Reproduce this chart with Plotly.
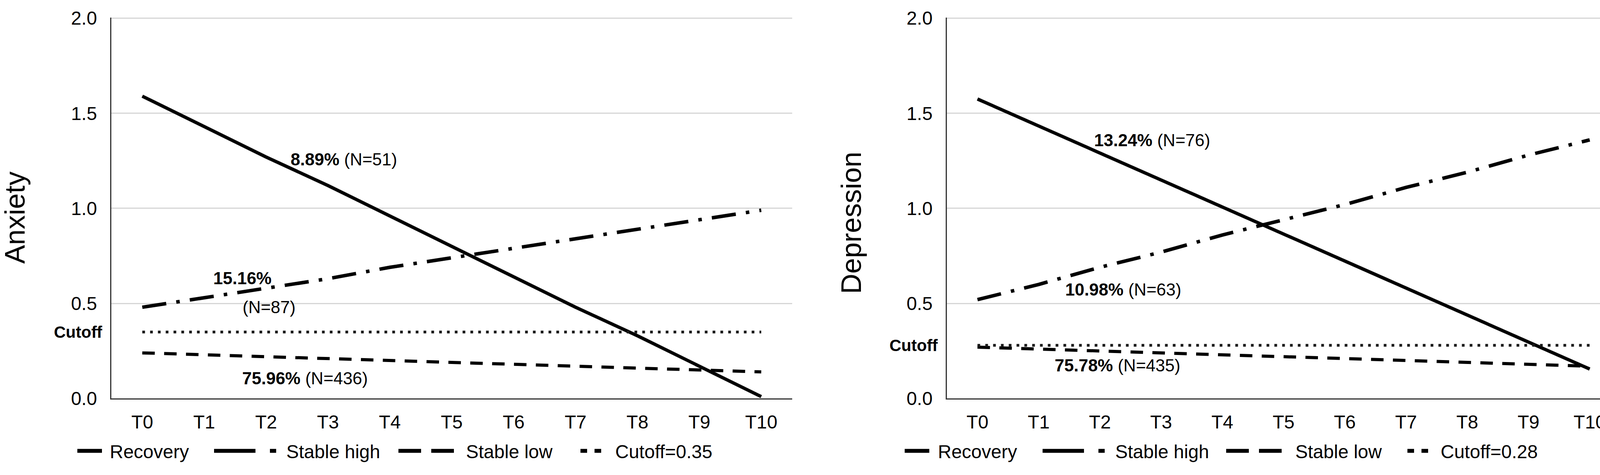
import plotly.graph_objects as go

# ---------------- data ----------------
time_points = ["T0", "T1", "T2", "T3", "T4", "T5", "T6", "T7", "T8", "T9", "T10"]

anx_recovery = [1.59, 1.43, 1.27, 1.12, 0.96, 0.80, 0.64, 0.48, 0.33, 0.17, 0.01]
anx_stable_high = [0.48, 0.53, 0.58, 0.63, 0.69, 0.74, 0.79, 0.84, 0.89, 0.94, 0.99]
anx_stable_low = [0.24, 0.23, 0.22, 0.21, 0.20, 0.19, 0.18, 0.17, 0.16, 0.15, 0.14]
anx_cutoff = 0.35

dep_recovery = [1.575, 1.433, 1.291, 1.149, 1.007, 0.865, 0.723, 0.581, 0.439, 0.297, 0.155]
dep_stable_high = [0.52, 0.60, 0.69, 0.77, 0.86, 0.94, 1.02, 1.11, 1.19, 1.28, 1.36]
dep_stable_low = [0.27, 0.26, 0.25, 0.24, 0.23, 0.22, 0.21, 0.20, 0.19, 0.18, 0.17]
dep_cutoff = 0.28

y_ticks = [0.0, 0.5, 1.0, 1.5, 2.0]
y_tick_text = ["0.0", "0.5", "1.0", "1.5", "2.0"]
legend_names_left = ["Recovery", "Stable high", "Stable low", "Cutoff=0.35"]
legend_names_right = ["Recovery", "Stable high", "Stable low", "Cutoff=0.28"]

# ---------------- layout helpers ----------------
W, H = 4150, 1215
FONT = "Liberation Sans, Arial, Helvetica, sans-serif"


def fx(p):
    return p / W


def fy(p):
    return 1 - p / H


fig = go.Figure()

styles = {
    "Recovery": dict(color="black", width=8.5),
    "Stable high": dict(color="black", width=9, dash="62px,26px,9px,26px"),
    "Stable low": dict(color="black", width=8, dash="32px,24px"),
    "Cutoff": dict(color="#1a1a1a", width=7, dash="7px,13px"),
}

panels = [
    ("x", "y", anx_recovery, anx_stable_high, anx_stable_low, anx_cutoff),
    ("x2", "y2", dep_recovery, dep_stable_high, dep_stable_low, dep_cutoff),
]

for xa, ya, rec, sh, sl, cut in panels:
    fig.add_trace(go.Scatter(x=time_points, y=rec, mode="lines", line=styles["Recovery"],
                             xaxis=xa, yaxis=ya, showlegend=False, name="Recovery"))
    fig.add_trace(go.Scatter(x=time_points, y=sh, mode="lines", line=styles["Stable high"],
                             xaxis=xa, yaxis=ya, showlegend=False, name="Stable high"))
    fig.add_trace(go.Scatter(x=time_points, y=sl, mode="lines", line=styles["Stable low"],
                             xaxis=xa, yaxis=ya, showlegend=False, name="Stable low"))
    fig.add_trace(go.Scatter(x=time_points, y=[cut] * len(time_points), mode="lines",
                             line=styles["Cutoff"], xaxis=xa, yaxis=ya, showlegend=False,
                             name="Cutoff"))

# ---------------- legends (Excel-like symbol samples) ----------------
# (symbol start px, text start px, dash pattern of the sample)
legend_left_geom = [
    (198, 281, "63px,400px"),
    (548, 733, "106px,37px,16px,400px"),
    (1020, 1193, "58px,26px,58px,400px"),
    (1486, 1575, "17px,19px,17px,400px"),
]
legend_right_geom = [
    (2316, 2401, "63px,400px"),
    (2669, 2855, "106px,37px,16px,400px"),
    (3139, 3316, "58px,26px,58px,400px"),
    (3603, 3688, "17px,19px,17px,400px"),
]

legend_layouts = {}
idx = 1
for names, geoms in [(legend_names_left, legend_left_geom), (legend_names_right, legend_right_geom)]:
    for name, (s, t, dash) in zip(names, geoms):
        lname = "legend" if idx == 1 else f"legend{idx}"
        iw = t - s - 5
        fig.add_trace(go.Scatter(x=[None], y=[None], mode="lines", name=name,
                                 line=dict(color="black", width=10, dash=dash),
                                 legend=lname, showlegend=True, hoverinfo="skip"))
        legend_layouts[lname] = dict(
            orientation="h", x=fx(s - 5), xanchor="left", y=fy(1179), yanchor="middle",
            itemwidth=max(30, iw), bgcolor="rgba(0,0,0,0)", borderwidth=0,
            font=dict(family=FONT, size=48, color="black"), itemclick=False,
            itemdoubleclick=False,
        )
        idx += 1

# ---------------- axes ----------------
Y_TOP = 2.004  # a hair above 2.0 so the 2.0 tick/gridline is kept
y_px_per_unit = (1039 - 23.5) / 2.0
y_dom = [fy(1039), fy(1039 - Y_TOP * y_px_per_unit)]
axis_common_x = dict(
    type="category", categoryorder="array", categoryarray=time_points,
    range=[-0.5, 10.5], showgrid=False, zeroline=False, showline=True,
    linecolor="#333333", linewidth=3, ticks="", ticklabelstandoff=16,
    ticklabeloverflow="allow",
    tickfont=dict(family=FONT, size=48, color="black"), fixedrange=True,
)
axis_common_y = dict(
    range=[0, Y_TOP], tickmode="array", tickvals=y_ticks, ticktext=y_tick_text,
    showgrid=True, gridcolor="#d6d6d6", gridwidth=3, zeroline=False, showline=True,
    linecolor="#333333", linewidth=3, ticks="", ticklabelstandoff=24,
    ticklabeloverflow="allow",
    tickfont=dict(family=FONT, size=48, color="black"), fixedrange=True,
)

fig.update_layout(
    width=W, height=H,
    margin=dict(l=0, r=0, t=0, b=0),
    paper_bgcolor="white", plot_bgcolor="white",
    font=dict(family=FONT, size=44, color="black"),
    xaxis=dict(domain=[fx(285), fx(2028)], anchor="y", **axis_common_x),
    yaxis=dict(domain=y_dom, anchor="x", **axis_common_y),
    xaxis2=dict(domain=[fx(2424), fx(4148)], anchor="y2", **axis_common_x),
    yaxis2=dict(domain=y_dom, anchor="x2", **axis_common_y),
    **legend_layouts,
)

# ---------------- annotations ----------------
ann = []
# y-axis titles
ann.append(dict(text="Anxiety", xref="paper", yref="paper", x=fx(38), y=fy(556),
                xanchor="center", yanchor="middle", textangle=-90, showarrow=False,
                font=dict(family=FONT, size=72, color="black")))
ann.append(dict(text="Depression", xref="paper", yref="paper", x=fx(2179), y=fy(570),
                xanchor="center", yanchor="middle", textangle=-90, showarrow=False,
                font=dict(family=FONT, size=72, color="black")))

# cutoff labels
for xr, yr, cut in [("x domain", "y", anx_cutoff), ("x2 domain", "y2", dep_cutoff)]:
    ann.append(dict(text="<b>Cutoff</b>", xref=xr, yref=yr, x=0, y=cut, xanchor="right",
                    yanchor="middle", xshift=-20, showarrow=False,
                    font=dict(family=FONT, size=42, color="black")))

group_labels = [
    ("x", "y", 3.26, 1.258, "<b>8.89%</b> (N=51)"),
    ("x", "y", 1.62, 0.632, "<b>15.16%</b>"),
    ("x", "y", 2.05, 0.481, "(N=87)"),
    ("x", "y", 2.63, 0.106, "<b>75.96%</b> (N=436)"),
    ("x2", "y2", 2.85, 1.358, "<b>13.24%</b> (N=76)"),
    ("x2", "y2", 2.38, 0.573, "<b>10.98%</b> (N=63)"),
    ("x2", "y2", 2.29, 0.175, "<b>75.78%</b> (N=435)"),
]
for xr, yr, xv, yv, txt in group_labels:
    ann.append(dict(text=txt, xref=xr, yref=yr, x=xv, y=yv, xanchor="center",
                    yanchor="middle", showarrow=False,
                    font=dict(family=FONT, size=44, color="black")))

fig.update_layout(annotations=ann)

fig.write_html("out.html", post_script="document.body.style.margin='0';")
